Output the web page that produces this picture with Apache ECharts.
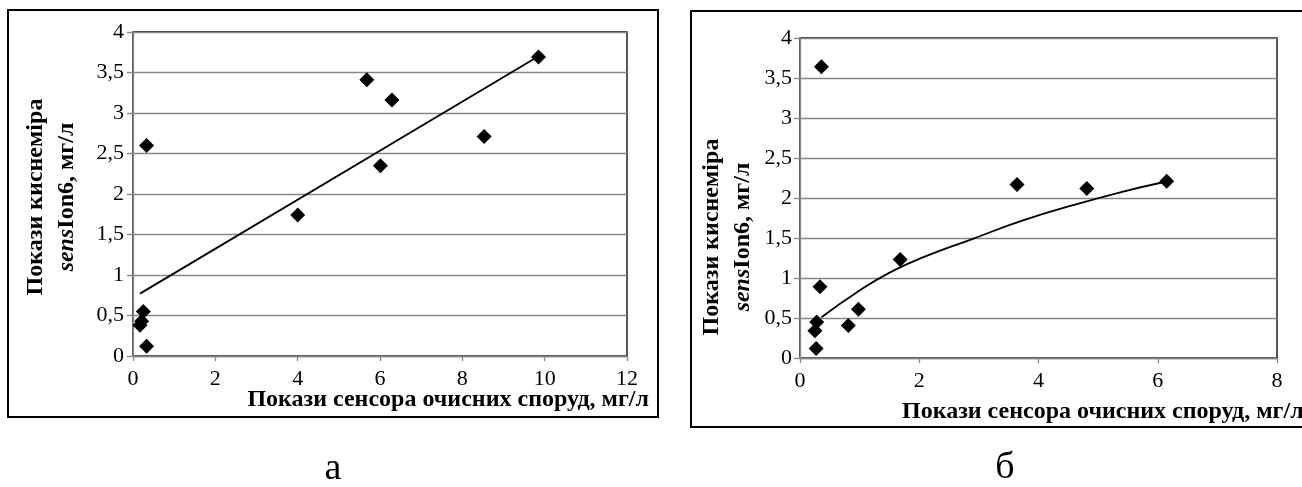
<!DOCTYPE html>
<html lang="uk">
<head>
    <meta charset="UTF-8">
    <title>Покази киснеміра</title>
    <script src="https://cdn.jsdelivr.net/npm/echarts@6/dist/echarts.min.js"></script>
    <style>
        body { margin: 0; background: #fff; }
    </style>
</head>
<body>
<div id="main" style="width: 1302px;height:487px;"></div>
<script>
    // а: показання сенсора очисних споруд і киснеміра
    const sensorA = [0.33, 0.25, 0.21, 0.17, 0.33, 4.0, 5.68, 6.29, 6.01, 8.53, 9.85];
    const kisnA = [2.60, 0.55, 0.43, 0.38, 0.12, 1.74, 3.41, 3.16, 2.35, 2.71, 3.69];
    const trendAx = [0.17, 9.85];
    const trendAy = [0.77, 3.70];

    // б
    const sensorB = [0.36, 0.335, 0.28, 0.25, 0.27, 0.81, 0.98, 1.68, 3.64, 4.81, 6.15];
    const kisnB = [3.64, 0.89, 0.45, 0.34, 0.12, 0.405, 0.61, 1.23, 2.17, 2.12, 2.21];
    const trendBx = [0.36, 0.95, 1.51, 2.07, 2.90, 3.74, 4.58, 5.42, 6.11];
    const trendBy = [0.51, 0.82, 1.07, 1.26, 1.49, 1.72, 1.91, 2.08, 2.20];

    const xTitle = 'Покази сенсора очисних споруд, мг/л';
    const captions = ['а', 'б'];

    const serif = '"Liberation Serif", "Times New Roman", serif';
    const gray = '#878787';

    function pairs(xs, ys) {
        let out = [];
        for (let i = 0; i < xs.length; i++) out.push([xs[i], ys[i]]);
        return out;
    }
    const comma = v => String(v).replace('.', ',');

    function xAxisOf(grid, max) {
        return {
            type: 'value', gridIndex: grid, min: 0, max: max, interval: 2,
            axisLine: { lineStyle: { color: gray, width: 1.3 } },
            axisTick: { show: true, length: 5, lineStyle: { color: gray, width: 1.3 } },
            axisLabel: { color: '#000', fontFamily: serif, fontSize: 22, margin: 12 },
            splitLine: { show: false }
        };
    }
    function yAxisOf(grid, margin) {
        return {
            type: 'value', gridIndex: grid, min: 0, max: 4, interval: 0.5,
            axisLine: { show: true, lineStyle: { color: gray, width: 1.3 } },
            axisTick: { show: true, length: 6, lineStyle: { color: gray, width: 1.3 } },
            axisLabel: { color: '#000', fontFamily: serif, fontSize: 22, margin: margin, formatter: comma },
            splitLine: { lineStyle: { color: gray, width: 1.3 } }
        };
    }
    function yTitle(x, y) {
        return {
            type: 'text', x: x, y: y, rotation: Math.PI / 2,
            style: {
                text: '{b|Покази киснеміра}\n{i|sens}{b|Ion6, мг/л}',
                align: 'center', verticalAlign: 'middle',
                rich: {
                    b: { fontFamily: serif, fontWeight: 'bold', fontSize: 24, lineHeight: 31, fill: '#000' },
                    i: { fontFamily: serif, fontWeight: 'bold', fontStyle: 'italic', fontSize: 24, lineHeight: 31, fill: '#000' }
                }
            }
        };
    }
    function xTitleText(x, y, align) {
        return {
            type: 'text', x: x, y: y,
            style: { text: xTitle, align: align, verticalAlign: 'middle',
                fontFamily: serif, fontWeight: 'bold', fontSize: 24, fill: '#000' }
        };
    }

    let myChart = echarts.init(document.getElementById('main'));
    let option = {
        animation: false,
        backgroundColor: '#fff',
        grid: [
            { left: 133, top: 32, width: 494, height: 324, show: true, borderColor: '#000', borderWidth: 1.3 },
            { left: 800, top: 38, width: 477, height: 320, show: true, borderColor: '#000', borderWidth: 1.3 }
        ],
        xAxis: [xAxisOf(0, 12), xAxisOf(1, 8)],
        yAxis: [yAxisOf(0, 9), yAxisOf(1, 8)],
        series: [
            {
                type: 'line', xAxisIndex: 0, yAxisIndex: 0, data: pairs(trendAx, trendAy),
                symbol: 'none', lineStyle: { color: '#000', width: 1.8 }
            },
            {
                type: 'scatter', xAxisIndex: 0, yAxisIndex: 0, data: pairs(sensorA, kisnA),
                symbol: 'diamond', symbolSize: [15, 15], itemStyle: { color: '#000', opacity: 1 }
            },
            {
                type: 'line', xAxisIndex: 1, yAxisIndex: 1, data: pairs(trendBx, trendBy),
                symbol: 'none', smooth: true, lineStyle: { color: '#000', width: 1.8 }
            },
            {
                type: 'scatter', xAxisIndex: 1, yAxisIndex: 1, data: pairs(sensorB, kisnB),
                symbol: 'diamond', symbolSize: [15, 15], itemStyle: { color: '#000', opacity: 1 }
            }
        ],
        graphic: [
            { type: 'rect', shape: { x: 8, y: 10, width: 650, height: 407 }, style: { fill: null, stroke: '#000', lineWidth: 2 } },
            { type: 'rect', shape: { x: 691, y: 11, width: 640, height: 416 }, style: { fill: null, stroke: '#000', lineWidth: 2 } },
            yTitle(51, 197),
            yTitle(727, 237),
            xTitleText(649, 400, 'right'),
            xTitleText(902, 412, 'left'),
            { type: 'text', x: 333, y: 469, style: { text: captions[0], align: 'center', verticalAlign: 'middle', fontFamily: serif, fontSize: 38, fill: '#000' } },
            { type: 'text', x: 1005, y: 468, style: { text: captions[1], align: 'center', verticalAlign: 'middle', fontFamily: serif, fontSize: 38, fill: '#000' } }
        ]
    };
    myChart.setOption(option);
</script>
</body>
</html>
